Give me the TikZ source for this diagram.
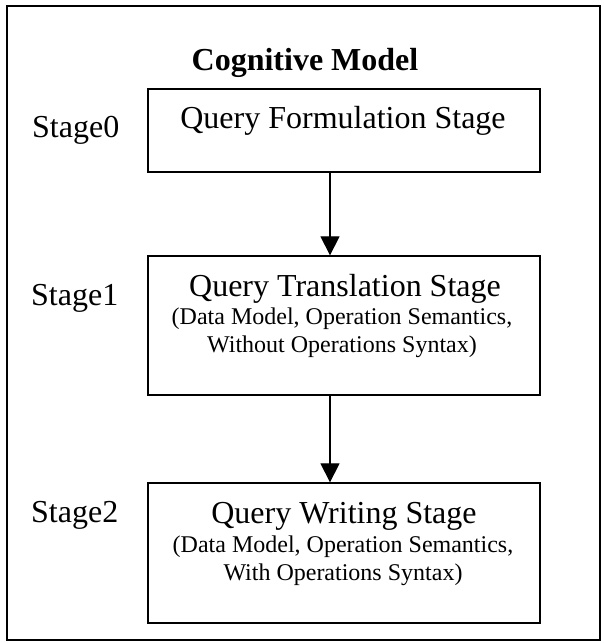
\documentclass[tikz,border=0pt]{standalone}
\usepackage{fontspec}
\setmainfont{Liberation Serif}
\usetikzlibrary{arrows.meta,positioning}
\newcommand{\bigtxt}{\fontsize{32}{36}\selectfont}
\newcommand{\smalltxt}{\fontsize{24}{28}\selectfont}

\begin{document}
\begin{tikzpicture}[x=1pt,y=-1pt,
    stagebox/.style={draw,line width=1.3pt,minimum width=392pt,inner sep=0pt},
    stagename/.style={anchor=base west,inner sep=0pt,font=\bigtxt},
    boxtitle/.style={anchor=base,inner sep=0pt,font=\bigtxt},
    boxnote/.style={anchor=base,inner sep=0pt,align=center,font=\smalltxt},
    flow/.style={line width=1.2pt,-{Triangle[length=19pt,width=19pt]}}]
     \useasboundingbox (0,0) rectangle (604,643);
     \draw[line width=1.3pt] (7,6) rectangle (600,640);

     \node[anchor=base,inner sep=0pt,font=\bigtxt\bfseries] (title) at (305,70) {Cognitive Model};

     % stage 0
     \node[stagebox,minimum height=83pt] (q0) at (344,130.5) {};
     \node[stagename] (s0) at (32,137) {Stage0};
     \node[boxtitle] (t0) at (343,128) {Query Formulation Stage};

     % stage 1 (base of the note is its last line)
     \node[stagebox,minimum height=139pt] (q1) at (344,325.5) {};
     \node[stagename] (s1) at (31,305) {Stage1};
     \node[boxtitle] (t1) at (345,296) {Query Translation Stage};
     \node[boxnote] (n1) at (342,352) {(Data Model, Operation Semantics,\\ Without Operations Syntax)};

     % stage 2
     \node[stagebox,minimum height=140pt] (q2) at (344,553) {};
     \node[stagename] (s2) at (31,522) {Stage2};
     \node[boxtitle] (t2) at (344,523) {Query Writing Stage};
     \node[boxnote] (n2) at (343,580) {(Data Model, Operation Semantics,\\ With Operations Syntax)};

     \draw[flow] ([xshift=-14pt]q0.south) -- ([xshift=-14pt]q1.north);
     \draw[flow] ([xshift=-14pt]q1.south) -- ([xshift=-14pt]q2.north);
\end{tikzpicture}
\end{document}
